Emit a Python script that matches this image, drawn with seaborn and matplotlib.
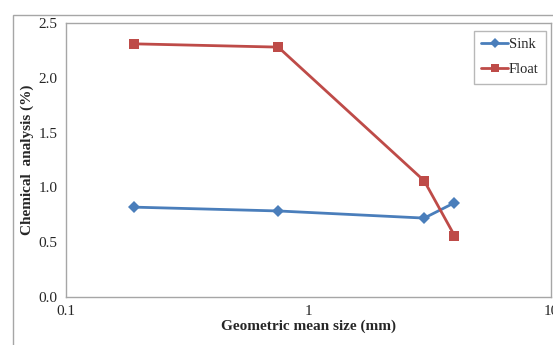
import matplotlib
matplotlib.use("Agg")
import matplotlib.pyplot as plt
import seaborn as sns
import pandas as pd
from matplotlib.patches import Rectangle

sizes = [0.19, 0.75, 3.0, 4.0]
sink = [0.82, 0.785, 0.72, 0.86]
flt = [2.31, 2.28, 1.06, 0.56]
series_names = ["Sink", "Float"]
x_ticks = [0.1, 1, 10]
y_ticks = [0.0, 0.5, 1.0, 1.5, 2.0, 2.5]

df = pd.DataFrame({
    "size": sizes * 2,
    "value": sink + flt,
    "series": [series_names[0]] * 4 + [series_names[1]] * 4,
})

sns.set_style("white")
plt.rcParams["font.family"] = ["Liberation Serif", "DejaVu Serif"]

fig = plt.figure(figsize=(5.53, 3.45), dpi=100)
fig.patches.append(Rectangle((13/553, -0.1), 1.2, 1 - 15/345 + 0.1, transform=fig.transFigure,
                             fill=False, edgecolor="#a6a6a6", linewidth=1.0))
ax = fig.add_axes([66/553, 1 - 297/345, (551 - 66)/553, (297 - 23)/345])

palette = {"Sink": "#4a7ebb", "Float": "#be4b48"}
markers = {"Sink": "D", "Float": "s"}
sns.lineplot(data=df, x="size", y="value", hue="series", style="series",
             palette=palette, markers=markers, dashes=False, linewidth=2.0,
             markersize=7, markeredgewidth=0, ax=ax)
for line in ax.get_lines():
    if line.get_marker() == "D":
        line.set_markersize(6)

ax.set_xscale("log")
ax.set_xlim(0.1, 10)
ax.set_ylim(0, 2.5)
ax.set_xticks(x_ticks)
ax.set_xticklabels(["0.1", "1", "10"])
ax.set_yticks(y_ticks)
ax.set_yticklabels([f"{v:.1f}" for v in y_ticks])
ax.xaxis.set_minor_locator(matplotlib.ticker.NullLocator())
ax.tick_params(axis="both", which="major", direction="out", length=4, width=1,
               color="#a6a6a6", labelsize=11, pad=2)
for s in ax.spines.values():
    s.set_color("#a6a6a6")
    s.set_linewidth(1.0)

ax.set_xlabel("Geometric mean size (mm)", fontsize=11, fontweight="bold", labelpad=1)
ax.set_ylabel("Chemical  analysis (%)", fontsize=11, fontweight="bold", labelpad=3)

leg = ax.legend(loc="upper right", bbox_to_anchor=(0.99, 0.971), fontsize=10.5,
                frameon=True, fancybox=False, edgecolor="#a6a6a6", borderaxespad=0,
                handlelength=1.8, handletextpad=0.1, borderpad=0.5, labelspacing=0.8,
                markerscale=0.8)
leg.get_frame().set_linewidth(1.0)

fig.savefig("out.png", dpi=100)
